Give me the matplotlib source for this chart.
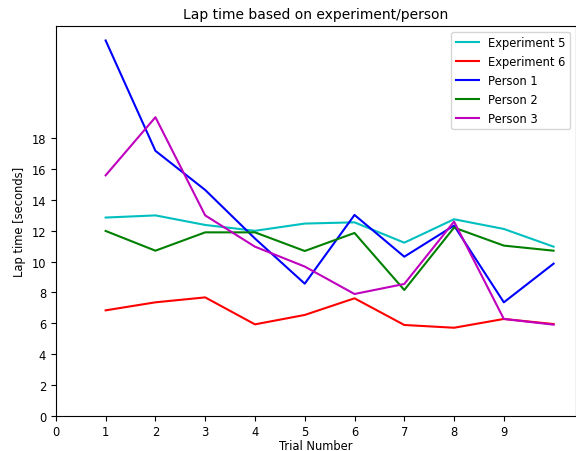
import numpy as np
import matplotlib
matplotlib.use("Agg")
import matplotlib.pyplot as plt

trials = np.arange(1, 11)
experiment5 = [12.86, 13.0, 12.38, 12.0, 12.47, 12.55, 11.23, 12.75, 12.12, 10.97]
experiment6 = [6.84, 7.36, 7.68, 5.93, 6.54, 7.62, 5.89, 5.71, 6.28, 5.95]
person1 = [24.35, 17.19, 14.65, 11.5, 8.57, 13.03, 10.32, 12.34, 7.36, 9.87]
person2 = [11.99, 10.71, 11.9, 11.9, 10.69, 11.86, 8.16, 12.21, 11.04, 10.71]
person3 = [15.6, 19.37, 13.0, 10.97, 9.68, 7.9, 8.55, 12.6, 6.28, 5.91]

plt.rcParams["font.size"] = 8.3

fig, ax = plt.subplots(figsize=(5.76, 4.52), dpi=100)
ax.plot(trials, experiment5, color="c", label="Experiment 5")
ax.plot(trials, experiment6, color="r", label="Experiment 6")
ax.plot(trials, person1, color="b", label="Person 1")
ax.plot(trials, person2, color="g", label="Person 2")
ax.plot(trials, person3, color="m", label="Person 3")

ax.set_xlim(left=0)
ax.set_ylim(bottom=0)
ax.set_xticks(np.arange(0, 10))
ax.set_yticks(np.arange(0, 20, 2))
ax.set_xlabel("Trial Number", labelpad=0.5)
ax.set_ylabel("Lap time [seconds]")
ax.set_title("Lap time based on experiment/person", fontsize=10)
ax.legend(loc="upper right")

fig.subplots_adjust(left=0.097, right=1.0, top=0.94, bottom=0.078)
fig.savefig("out.png")
